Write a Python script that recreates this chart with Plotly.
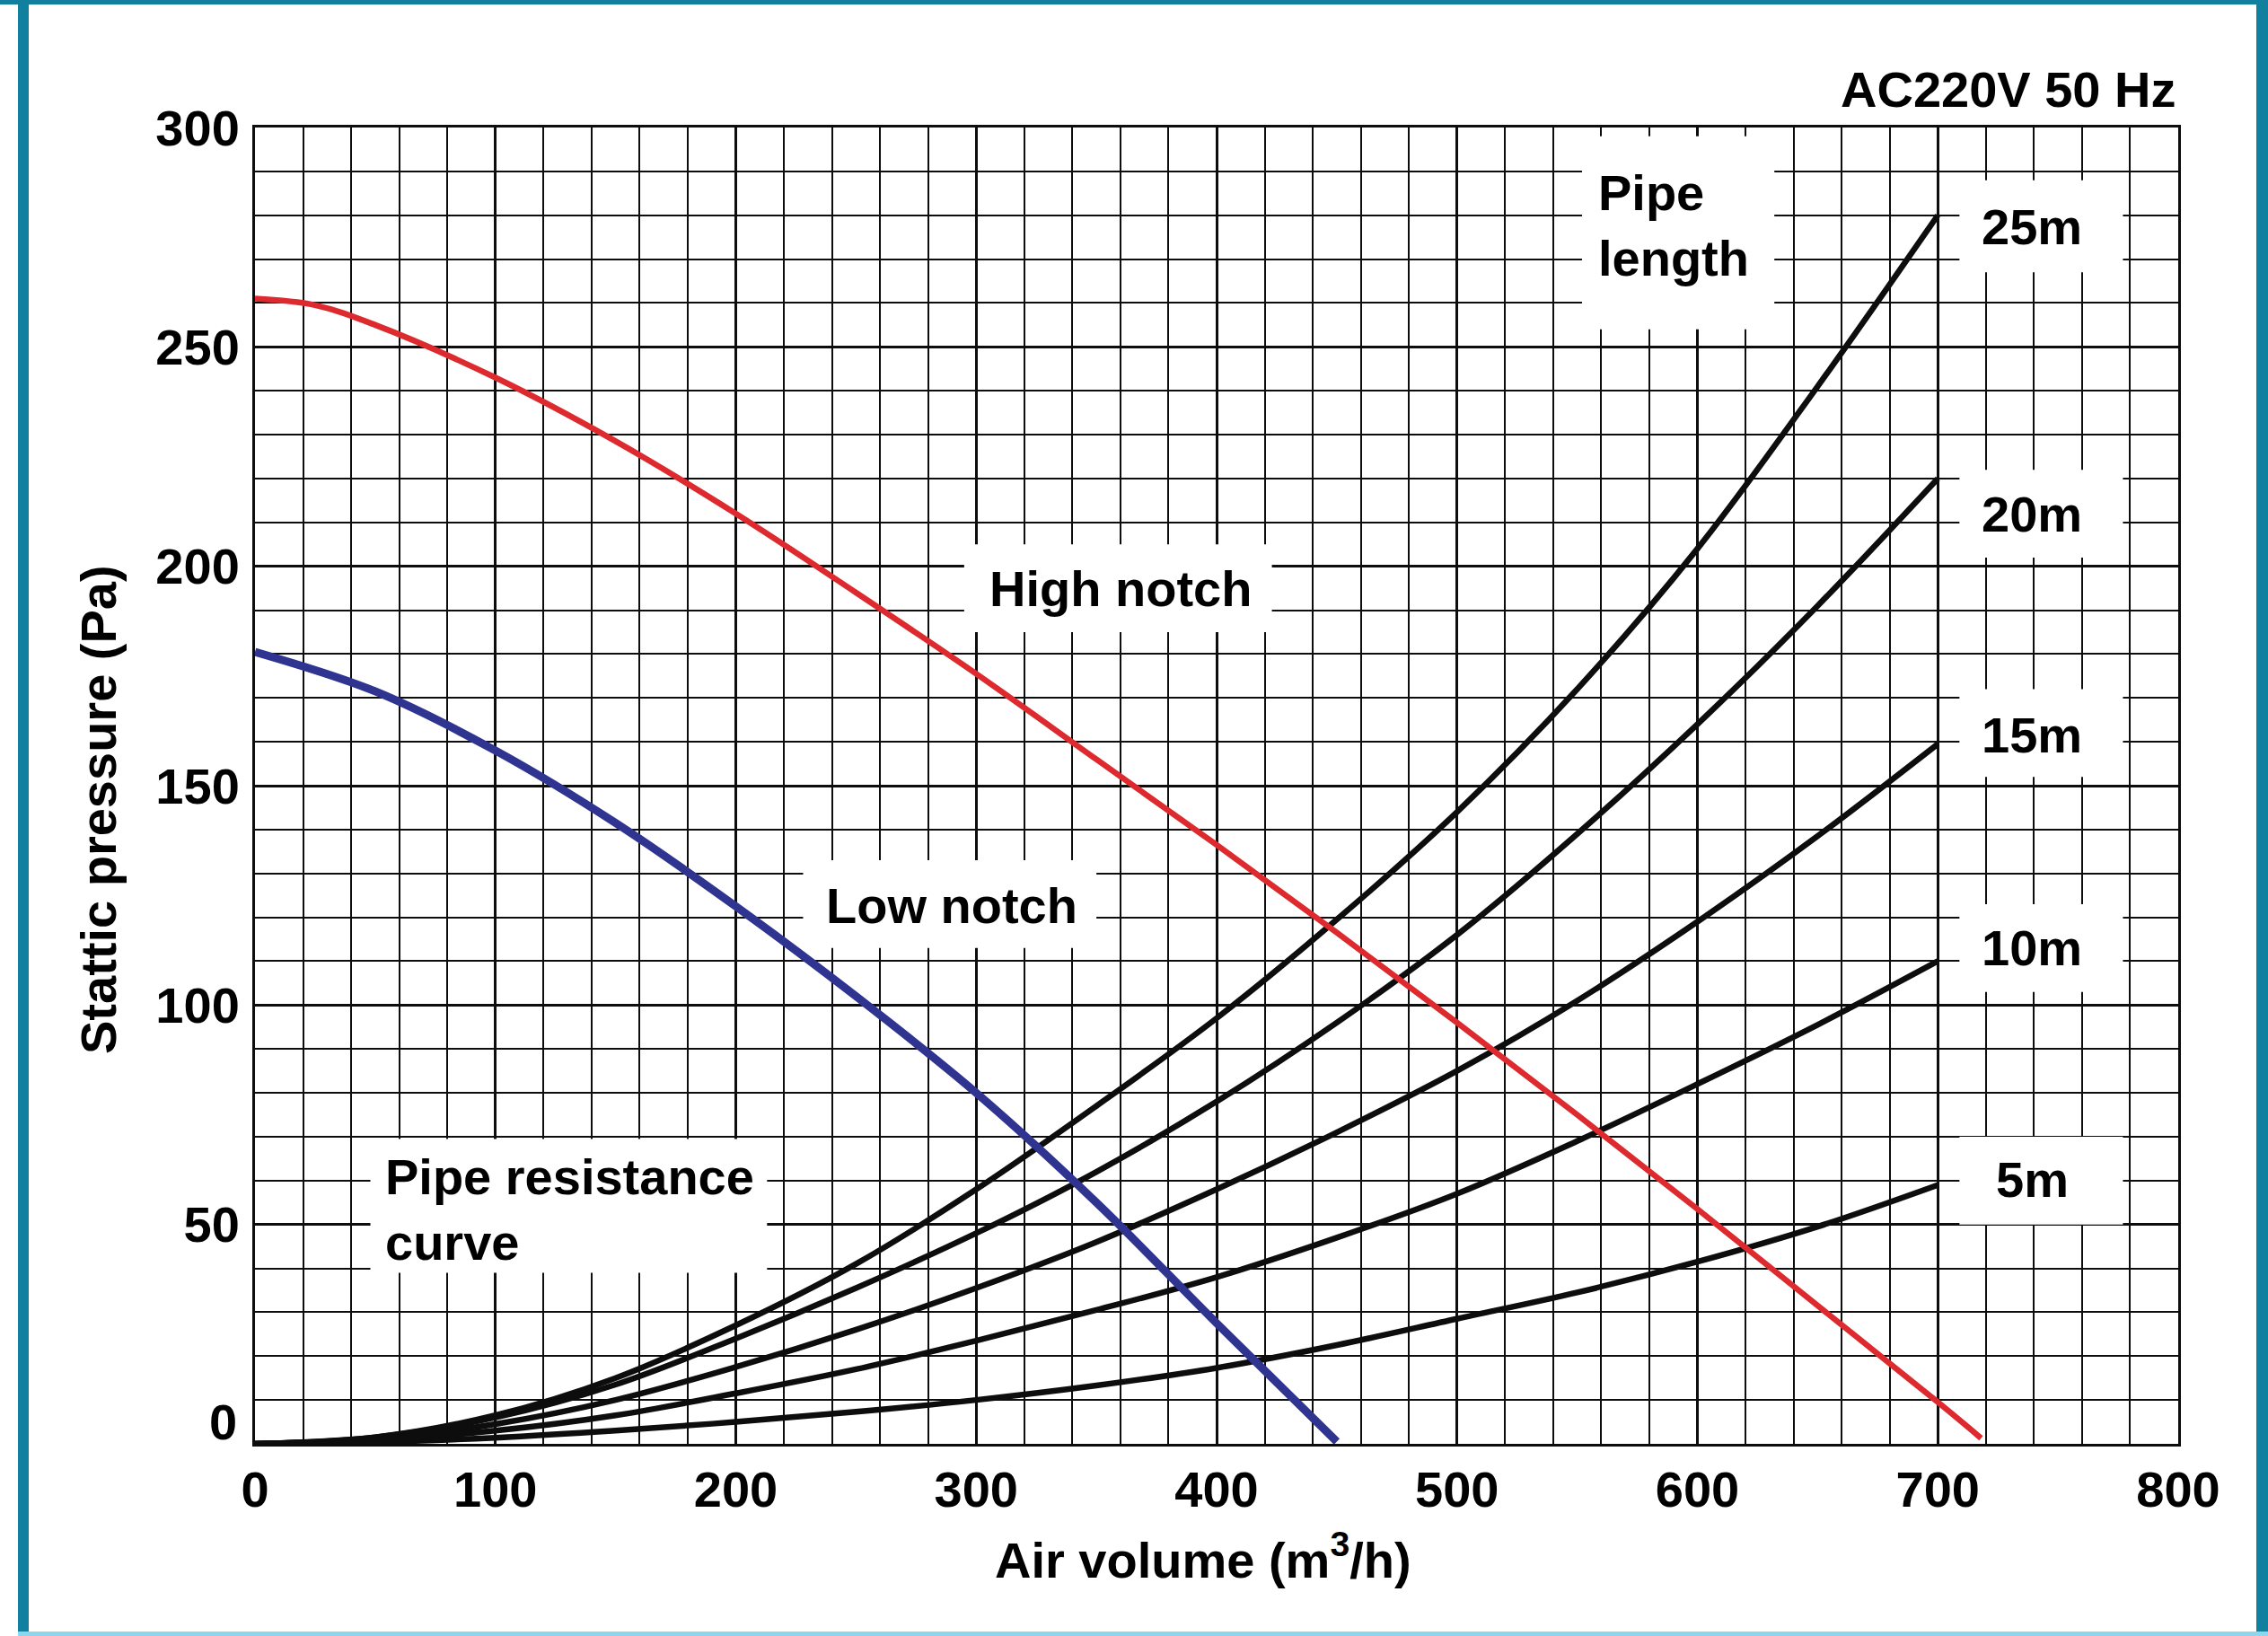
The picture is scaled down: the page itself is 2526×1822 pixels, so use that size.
import plotly.graph_objects as go

# ---------------- data ----------------
high_x = [0, 25, 50, 100, 150, 200, 250, 300, 350, 400, 450, 500, 550, 600, 650, 700, 718]
high_p = [261, 259.5, 255, 243, 228.5, 212, 194, 175.5, 156, 136.5, 116.5, 96, 75, 53.5, 31.5, 9.5, 1.3]

low_x = [0, 50, 100, 150, 200, 250, 300, 350, 400, 450]
low_p = [180.5, 171.5, 158, 141.5, 122.5, 102, 80, 55, 27.5, 0.5]

pipe_x = [0, 50, 100, 150, 200, 250, 300, 350, 400, 450, 500, 550, 600, 650, 700]
pipe_25 = [0, 1.5, 6.5, 15, 27, 41, 58, 77, 97, 119.5, 144, 172, 204, 241, 280]
pipe_20 = [0, 1.5, 6, 13.5, 24, 35.5, 48, 62, 78, 96, 116, 139, 164, 191, 220]
pipe_15 = [0, 1, 4.5, 10, 17.5, 26, 35.5, 46, 58, 71, 85, 101, 119, 138.5, 159.5]
pipe_10 = [0, 0.8, 3, 6.5, 11.5, 17, 23.5, 30.5, 38, 47, 57, 69, 82, 95.5, 110]
pipe_5 = [0, 0.4, 1.4, 3, 5, 7.3, 10, 13.3, 17.3, 22.5, 28.5, 34.5, 41.5, 49.5, 59]

pipe_names = ["25m", "20m", "15m", "10m", "5m"]
pipe_series = [pipe_25, pipe_20, pipe_15, pipe_10, pipe_5]
pipe_label_y = [277.3, 212, 161.6, 113, 60.3]

x_ticks = [0, 100, 200, 300, 400, 500, 600, 700, 800]
y_ticks = [50, 100, 150, 200, 250, 300]

# ---------------- style ----------------
W, H = 2526, 1822
L, R, T, B = 284, 100, 142, 214
PW, PH = W - L - R, H - T - B
FONT = "Liberation Sans, Arial, Helvetica, sans-serif"
FS = 56
RED = "#dd2a2e"
BLUE = "#2f3490"
BLACK = "#0d0d0d"
TEAL = "#11809f"


def px_x(px):
    return (px - L) / PW


def px_y(py):
    return (H - B - py) / PH


fig = go.Figure()

for name, ys in zip(pipe_names, pipe_series):
    fig.add_trace(go.Scatter(x=pipe_x, y=ys, mode="lines", name=name,
                             line=dict(color=BLACK, width=6.5, shape="spline", smoothing=1.0),
                             hoverinfo="skip"))

fig.add_trace(go.Scatter(x=high_x, y=high_p, mode="lines", name="High notch",
                         line=dict(color=RED, width=6.5, shape="spline", smoothing=1.0)))
fig.add_trace(go.Scatter(x=low_x, y=low_p, mode="lines", name="Low notch",
                         line=dict(color=BLUE, width=9, shape="spline", smoothing=1.0)))

# white label boxes (between grid and traces)
boxes = [
    (295, 423, 185, 205),
    (228, 350, 113, 133),
    (48, 213, 39, 69.5),
    (552, 632, 254, 298),
    (709, 777, 267, 288),
    (709, 777, 202, 222),
    (709, 777, 152, 172),
    (709, 777, 103, 123),
    (709, 777, 50, 70),
]
shapes = []
for x0, x1, y0, y1 in boxes:
    shapes.append(dict(type="rect", xref="x", yref="y", x0=x0, x1=x1, y0=y0, y1=y1,
                       fillcolor="white", line=dict(width=0), layer="between"))

# teal frame around the picture
frame = [
    (20, 32, 0, H),
    (0, W, 0, 5),
    (2513, W, 0, H),
]
for a, b, c, d in frame:
    shapes.append(dict(type="rect", xref="paper", yref="paper",
                       x0=px_x(a), x1=px_x(b), y0=px_y(d), y1=px_y(c),
                       fillcolor=TEAL, line=dict(width=0), layer="above"))
shapes.append(dict(type="rect", xref="paper", yref="paper",
                   x0=px_x(20), x1=px_x(W), y0=px_y(H), y1=px_y(1817),
                   fillcolor="#8fd6ea", line=dict(width=0), layer="above"))

tf = dict(family=FONT, size=FS, color="black", weight="bold")


def ann(x, y, text, xref="x", yref="y", xanchor="center", yanchor="middle", **kw):
    return dict(x=x, y=y, xref=xref, yref=yref, text=text, showarrow=False, font=tf,
                xanchor=xanchor, yanchor=yanchor, **kw)


annotations = [
    ann(360, 195, "High notch"),
    ann(290, 122.6, "Low notch"),
    ann(53.5, 53.4, "Pipe resistance<br>curve", xanchor="left", align="left"),
    ann(558, 277.6, "Pipe<br>length", xanchor="left", align="left"),
    ann(px_x(2426), px_y(100), "AC220V 50 Hz", xref="paper", yref="paper", xanchor="right"),
    ann(px_x(1340), px_y(1733), "Air volume (m<sup>3</sup>/h)", xref="paper", yref="paper"),
    ann(px_x(110), px_y(902), "Stattic pressure (Pa)", xref="paper", yref="paper", textangle=-90),
    ann(px_x(266), 5, "0", xref="paper", yref="y", xanchor="right"),
]
for name, yv in zip(pipe_names, pipe_label_y):
    annotations.append(ann(739.3, yv, name))

axis_common = dict(showgrid=True, gridcolor=BLACK, gridwidth=3, zeroline=False,
                   showline=True, mirror=True, linecolor=BLACK, linewidth=3,
                   ticks="", tickfont=tf, fixedrange=True)

fig.update_layout(
    width=W, height=H, autosize=False,
    margin=dict(l=L, r=R, t=T, b=B, pad=0),
    paper_bgcolor="white", plot_bgcolor="white",
    showlegend=False,
    xaxis=dict(range=[0, 800], tickvals=x_ticks, ticklabelstandoff=0,
               minor=dict(dtick=20, tick0=0, showgrid=True, gridcolor=BLACK, gridwidth=1.8),
               **axis_common),
    yaxis=dict(range=[0, 300], tickvals=y_ticks, ticklabelstandoff=3,
               minor=dict(dtick=10, tick0=0, showgrid=True, gridcolor=BLACK, gridwidth=1.8),
               **axis_common),
    shapes=shapes,
    annotations=annotations,
)

fig.write_html("out.html", config={"displayModeBar": False},
               post_script="document.body.style.margin='0';document.body.style.overflow='hidden';")
